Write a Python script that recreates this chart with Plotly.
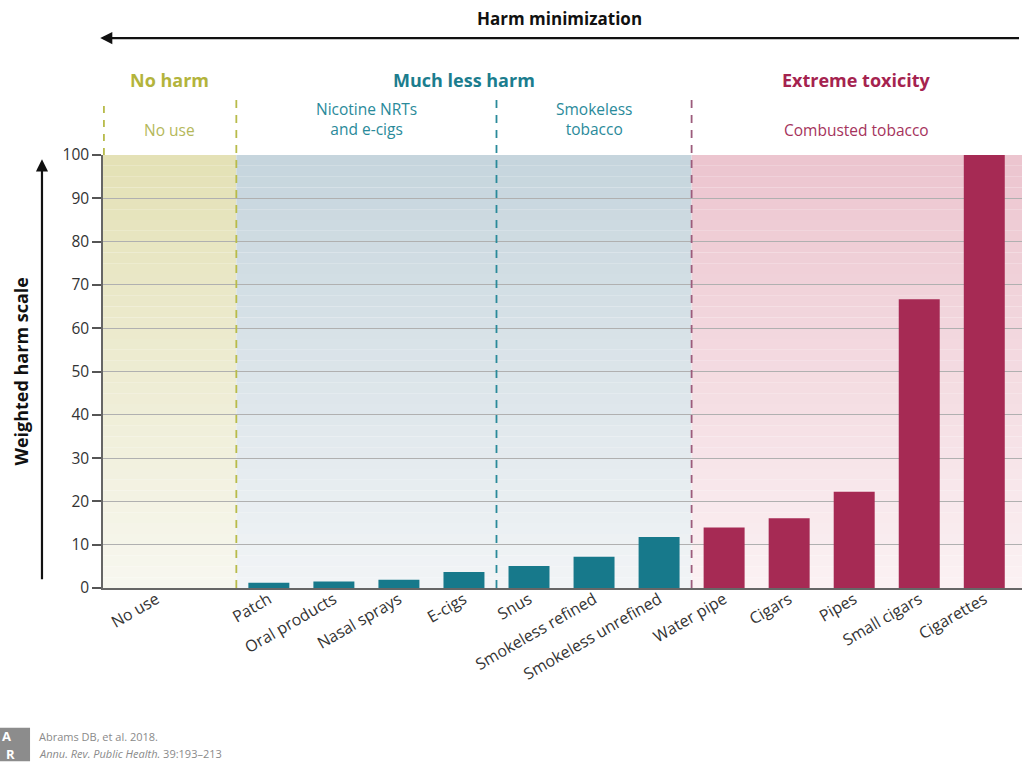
import plotly.graph_objects as go

# ---------------- data ----------------
categories = ["No use", "Patch", "Oral products", "Nasal sprays", "E-cigs",
              "Snus", "Smokeless refined", "Smokeless unrefined",
              "Water pipe", "Cigars", "Pipes", "Small cigars", "Cigarettes"]
harm = [0, 1.2, 1.5, 1.9, 3.7, 5.1, 7.2, 11.8, 14.0, 16.1, 22.2, 66.7, 100]

# header groups (label, number of categories)
header_groups = ["No harm", "Much less harm", "Extreme toxicity"]
header_counts = [1, 7, 5]
# sub groups (label, number of categories)
sub_groups = ["No use", "Nicotine NRTs<br>and e-cigs", "Smokeless<br>tobacco", "Combusted tobacco"]
sub_counts = [1, 4, 3, 5]

y_ticks = [0, 10, 20, 30, 40, 50, 60, 70, 80, 90, 100]

# ---------------- styles ----------------
FONT = "Open Sans"
header_colors = ["#b3b43c", "#1b7d8e", "#a5234f"]
sub_colors = ["#b5b85a", "#2a8a9a", "#2a8a9a", "#a5335c"]
line_colors = ["#b8bb4a", "#2a8a9a", "#9c5c7c"]
bar_colors_by_group = ["rgba(0,0,0,0)", "#17798b", "#a62a54"]
grad_top = ["#e4e1b6", "#c6d5dd", "#ecc5cf"]
grad_bot = ["#f7f7ef", "#f1f4f6", "#fbf1f3"]

XMIN, XMAX = -1.55, 12.58

grp = []
for gi, n in enumerate(header_counts):
    grp += [gi] * n
bar_colors = [bar_colors_by_group[g] for g in grp]

hb = [XMIN]
c = 0
for n in header_counts:
    c += n
    hb.append(c - 0.5)
hb[-1] = XMAX
sb = [XMIN]
c = 0
for n in sub_counts:
    c += n
    sb.append(c - 0.5)
sb[-1] = XMAX

# tick label positions: the "No use" label sits within its (wider) region
tick_pos = list(range(len(categories)))
tick_pos[0] = (sb[0] + sb[1]) / 2 - 0.2


def hex2rgb(h):
    h = h.lstrip("#")
    return tuple(int(h[i:i + 2], 16) for i in (0, 2, 4))


def mix(a, b, t):
    ra, rb = hex2rgb(a), hex2rgb(b)
    return "rgb(%d,%d,%d)" % tuple(round(ra[i] + (rb[i] - ra[i]) * t) for i in range(3))


fig = go.Figure()
fig.add_trace(go.Bar(x=categories, y=harm, marker=dict(color=bar_colors, line=dict(width=0)),
                     hoverinfo="x+y"))

shapes = []
NB = 40
for gi in range(3):
    for k in range(NB):
        t = k / (NB - 1)
        shapes.append(dict(type="rect", xref="x", yref="y", layer="below",
                           x0=hb[gi], x1=hb[gi + 1],
                           y0=100 * (1 - (k + 1) / NB), y1=100 * (1 - k / NB),
                           fillcolor=mix(grad_top[gi], grad_bot[gi], t),
                           line=dict(width=0)))

# dashed separators
YTOP = 1.127
shapes.append(dict(type="line", xref="paper", yref="paper", x0=0.001, x1=0.001, y0=1.0, y1=YTOP,
                   line=dict(color=line_colors[0], width=1.8, dash="7px,7px")))
for xb, col in zip(sb[1:4], line_colors):
    shapes.append(dict(type="line", xref="x", yref="paper", x0=xb, x1=xb, y0=0, y1=YTOP,
                       layer="above", line=dict(color=col, width=1.8, dash="8px,7px")))

annotations = []


def ann(**kw):
    kw.setdefault("xanchor", "center")
    kw.setdefault("yanchor", "middle")
    kw.setdefault("showarrow", False)
    annotations.append(kw)


# Harm minimization arrow + title
ann(xref="paper", yref="paper", x=-0.003, y=1.270, ax=930, ay=0,
    text=" ", showarrow=True, arrowhead=2, arrowsize=1.1, arrowwidth=2.2, arrowcolor="#111")
ann(xref="paper", yref="paper", x=0.497, y=1.316, text="<b>Harm minimization</b>",
    font=dict(family=FONT, size=17, color="#111"))
for gi, lab in enumerate(header_groups):
    xc = (hb[gi] + hb[gi + 1]) / 2
    ann(xref="x", yref="paper", x=xc, y=1.173, text="<b>%s</b>" % lab,
        font=dict(family=FONT, size=18, color=header_colors[gi]))
for si, lab in enumerate(sub_groups):
    xc = (sb[si] + sb[si + 1]) / 2
    two = "<br>" in lab
    ann(xref="x", yref="paper", x=xc, y=1.058 if not two else 1.083,
        text=lab, align="center",
        font=dict(family=FONT, size=15.5, color=sub_colors[si]))
# y-axis arrow and title
ann(xref="paper", yref="paper", x=-0.0664, y=0.99, ax=0, ay=430,
    text=" ", showarrow=True, arrowhead=2, arrowsize=1.1, arrowwidth=2.2, arrowcolor="#111")
ann(xref="paper", yref="paper", x=-0.0903, y=0.50, text="<b>Weighted harm scale</b>",
    textangle=-90, font=dict(family=FONT, size=18, color="#111"))
# footer
shapes.append(dict(type="rect", xref="paper", yref="paper", x0=-0.1121, x1=-0.0794, y0=-0.40, y1=-0.323,
                   fillcolor="#8c8c8c", line=dict(width=0)))
ann(xref="paper", yref="paper", x=-0.1045, y=-0.342, text="<b>A</b>",
    font=dict(family=FONT, size=13, color="white"))
ann(xref="paper", yref="paper", x=-0.1005, y=-0.383, text="<b>R</b>",
    font=dict(family=FONT, size=13, color="white"))
ann(xref="paper", yref="paper", x=-0.0718, y=-0.342, xanchor="left",
    text="Abrams DB, et al. 2018.", font=dict(family=FONT, size=11, color="#8a8a8a"))
ann(xref="paper", yref="paper", x=-0.0718, y=-0.383, xanchor="left",
    text="<i>Annu. Rev. Public Health.</i> 39:193–213", font=dict(family=FONT, size=11, color="#8a8a8a"))

fig.update_layout(
    width=1022, height=762,
    margin=dict(l=103, r=0, t=155, b=174),
    paper_bgcolor="white", plot_bgcolor="rgba(0,0,0,0)",
    showlegend=False, bargap=0.37,
    shapes=shapes, annotations=annotations,
    font=dict(family=FONT, color="#333"),
)
fig.update_xaxes(type="category", range=[XMIN, XMAX], tickangle=-30,
                 tickmode="array", tickvals=tick_pos, ticktext=categories,
                 tickfont=dict(family=FONT, size=16, color="#333"),
                 showline=True, linecolor="#666", linewidth=2, showgrid=False,
                 ticks="", fixedrange=True, automargin=False, ticklabelstandoff=-6)
fig.update_yaxes(range=[0, 100], tickvals=y_ticks, ticks="outside", ticklen=9, tickwidth=1.5,
                 tickcolor="#555", showline=True, linecolor="#666", linewidth=1.5,
                 showgrid=True, gridcolor="#b0b0b0", gridwidth=1, zeroline=False,
                 tickfont=dict(family=FONT, size=15.5, color="#333"), fixedrange=True,
                 automargin=False)

fig.write_html("out.html", config={"displayModeBar": False},
               post_script="document.body.style.margin='0';document.body.style.overflow='hidden';")
